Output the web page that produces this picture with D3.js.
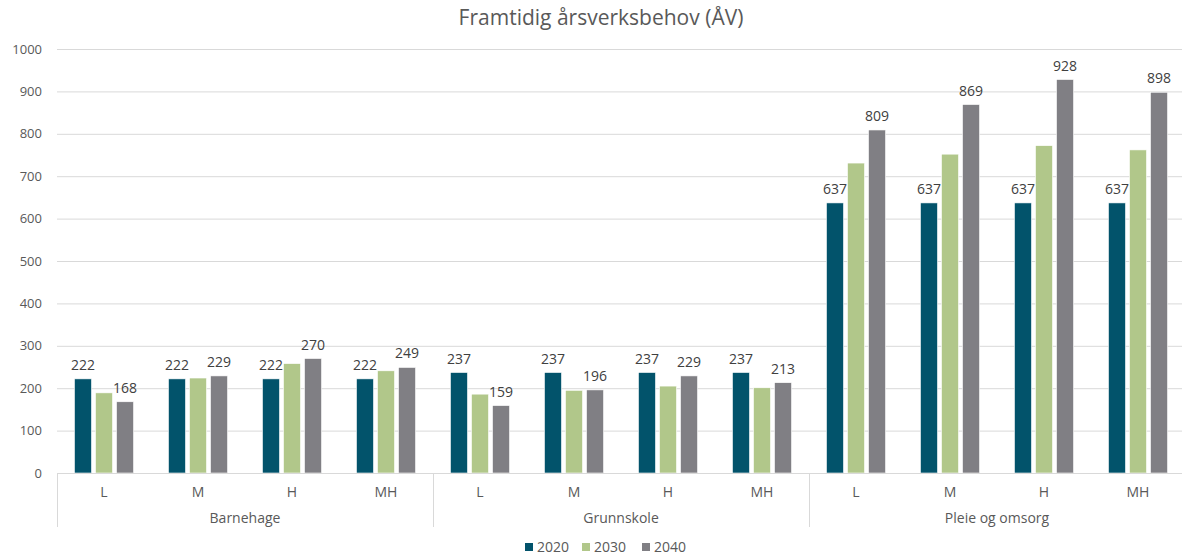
<!DOCTYPE html>
<html>
<head>
<meta charset="utf-8">
<script src="https://cdn.jsdelivr.net/npm/d3@7"></script>
<style>
  body { margin: 0; background: #fff; }
  svg { display: block; font-family: "Open Sans", sans-serif; }
</style>
</head>
<body>
<svg width="1182" height="558"></svg>
<script>
(function() {
    'use strict';
    let groups = ["Barnehage", "Grunnskole", "Pleie og omsorg"];
    let subs = ["L", "M", "H", "MH"];
    let series = ["2020", "2030", "2040"];
    let v2020 = [222, 222, 222, 222, 237, 237, 237, 237, 637, 637, 637, 637];
    let v2030 = [189, 224, 258, 241, 186, 195, 205, 201, 731, 752, 772, 762];
    let v2040 = [168, 229, 270, 249, 159, 196, 229, 213, 809, 869, 928, 898];
    let yTicks = [0, 100, 200, 300, 400, 500, 600, 700, 800, 900, 1000];
    let colors = ["#02536b", "#b1c78a", "#807f84"];
    let labelled = ["2020", "2040"];

    let svg = d3.select("svg");
    let leftMargin = 57, rightEdge = 1185, topY = 49, baseY = 473;

    let cats = [];
    groups.forEach(function(g) { subs.forEach(function(s) { cats.push(g + "|" + s); }); });
    let values = { "2020": v2020, "2030": v2030, "2040": v2040 };

    let x0 = d3.scaleBand().domain(cats).range([leftMargin, rightEdge]);
    let x1 = d3.scaleBand().domain(series).range([0, x0.bandwidth()])
        .paddingInner(0.19).paddingOuter(0.83);
    let y = d3.scaleLinear().domain([0, 1000]).range([baseY, topY]);

    // gridlines
    svg.append("g").selectAll("line").data(yTicks.slice(1)).join("line")
        .attr("x1", leftMargin).attr("x2", 1182)
        .attr("y1", function(d) { return y(d) + 0.5; })
        .attr("y2", function(d) { return y(d) + 0.5; })
        .attr("stroke", "#d9d9d9").attr("stroke-width", 1);

    // y tick labels
    svg.append("g").selectAll("text").data(yTicks).join("text")
        .attr("x", 42).attr("y", function(d) { return y(d); })
        .attr("dy", "0.35em").attr("text-anchor", "end")
        .attr("font-size", 13).attr("fill", "#595959")
        .text(function(d) { return d; });

    // bars
    series.forEach(function(s, si) {
        let g = svg.append("g");
        g.selectAll("rect").data(cats).join("rect")
            .attr("x", function(c) { return x0(c) + x1(s); })
            .attr("y", function(c, i) { return y(values[s][i]); })
            .attr("width", x1.bandwidth())
            .attr("height", function(c, i) { return baseY - y(values[s][i]); })
            .attr("fill", colors[si])
            .attr("stroke", "#ffffff").attr("stroke-width", 0.6);
        if (labelled.indexOf(s) >= 0) {
            g.selectAll("text").data(cats).join("text")
                .attr("x", function(c) { return x0(c) + x1(s) + x1.bandwidth() / 2; })
                .attr("y", function(c, i) { return y(values[s][i]) - 9; })
                .attr("text-anchor", "middle")
                .attr("font-size", 14).attr("fill", "#404040")
                .text(function(c, i) { return values[s][i]; });
        }
    });

    // category axis
    svg.append("line").attr("x1", leftMargin).attr("x2", 1182)
        .attr("y1", baseY + 0.5).attr("y2", baseY + 0.5)
        .attr("stroke", "#d9d9d9");
    groups.forEach(function(g, gi) {
        let gx = x0(g + "|" + subs[0]);
        svg.append("line").attr("x1", gx + 0.5).attr("x2", gx + 0.5)
            .attr("y1", baseY).attr("y2", 527)
            .attr("stroke", "#d9d9d9");
        svg.append("text")
            .attr("x", gx + x0.bandwidth() * subs.length / 2).attr("y", 523)
            .attr("text-anchor", "middle").attr("font-size", 14).attr("fill", "#595959")
            .text(g);
    });
    svg.append("g").selectAll("text").data(cats).join("text")
        .attr("x", function(c) { return x0(c) + x0.bandwidth() / 2; })
        .attr("y", 497).attr("text-anchor", "middle")
        .attr("font-size", 14).attr("fill", "#595959")
        .text(function(c) { return c.split("|")[1]; });

    // title
    svg.append("text").attr("x", 601).attr("y", 25)
        .attr("text-anchor", "middle").attr("font-size", 21).attr("fill", "#595959")
        .text("Framtidig årsverksbehov (ÅV)");

    // legend
    let legendX = [525, 582, 642];
    let lg = svg.append("g");
    series.forEach(function(s, si) {
        lg.append("rect").attr("x", legendX[si]).attr("y", 543)
            .attr("width", 8).attr("height", 8).attr("fill", colors[si]);
        lg.append("text").attr("x", legendX[si] + 12).attr("y", 552)
            .attr("font-size", 14).attr("fill", "#595959").text(s);
    });
})();
</script>
</body>
</html>
